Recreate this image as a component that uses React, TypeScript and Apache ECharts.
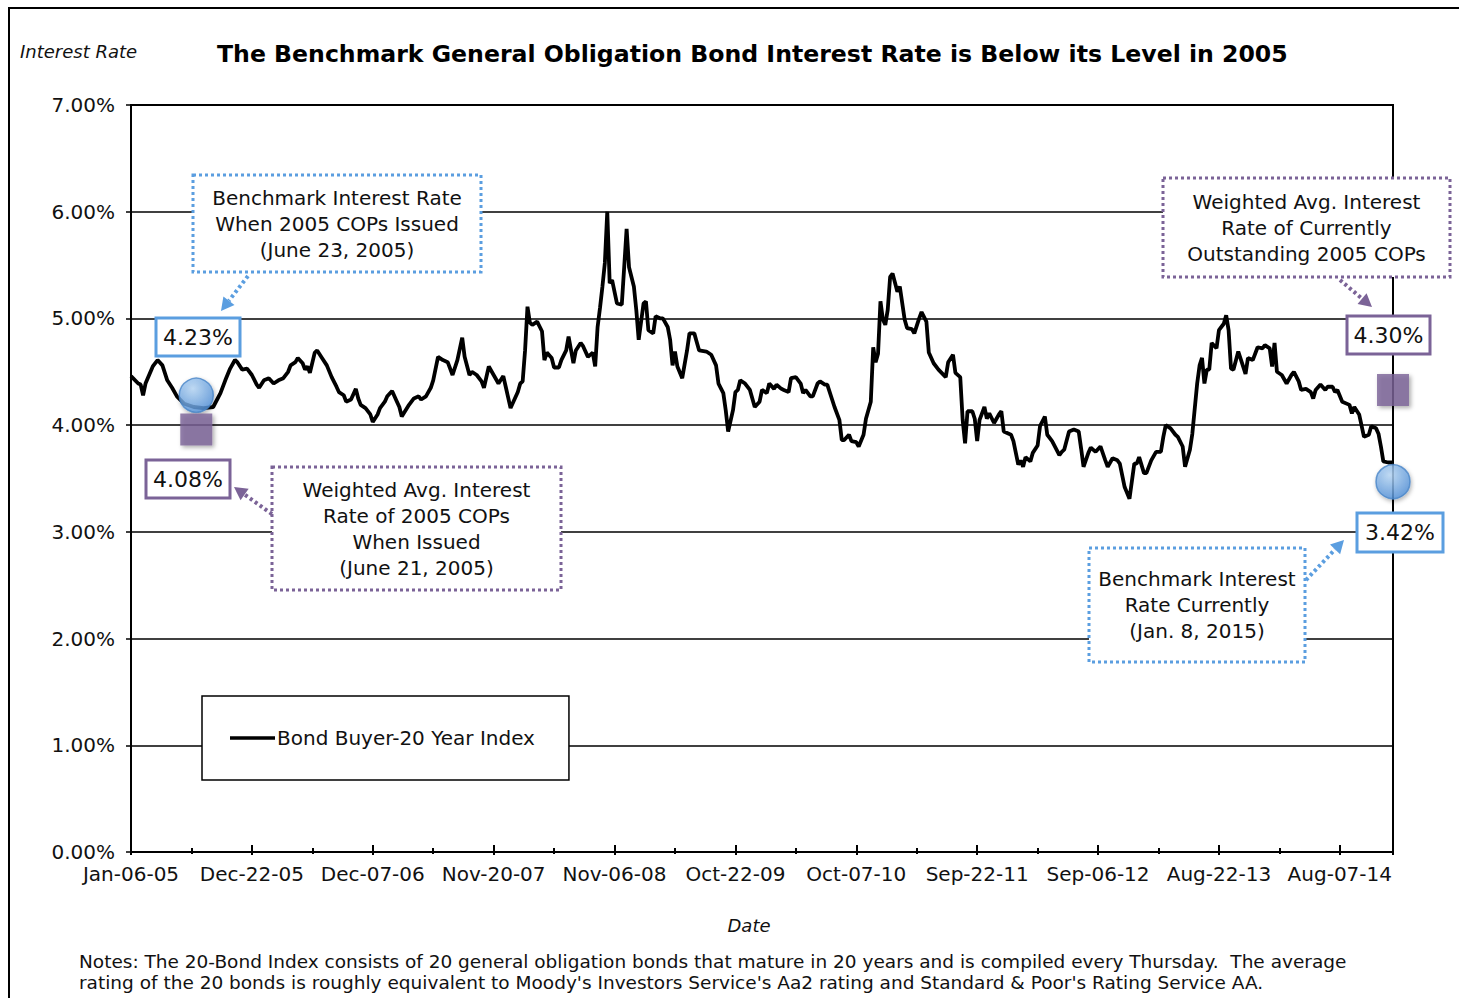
import React, { useEffect, useRef } from "react";
import * as echarts from "echarts";

// Bond Buyer 20-Year Index, weekly: [week index since Jan-06-05, rate %]
const bondBuyer20: [number, number][] = [
  [0,4.46],[3,4.39],[4,4.38],[5,4.28],[6,4.39],[9,4.55],[11,4.61],[13,4.56],[15,4.42],[17,4.35],[19,4.27],[22,4.20],[26,4.17],[30,4.16],[34,4.17],[37,4.30],[39,4.42],[41,4.53],[43,4.61],[44,4.59],[46,4.52],[48,4.53],[50,4.47],[52,4.38],[53,4.35],[55,4.42],[57,4.44],[59,4.39],[61,4.42],[63,4.44],[65,4.50],[66,4.56],[68,4.59],[69,4.63],[71,4.58],[72,4.52],[73,4.55],[74,4.49],[76,4.68],[77,4.70],[79,4.63],[81,4.56],[83,4.45],[85,4.36],[86,4.31],[88,4.28],[89,4.22],[91,4.24],[93,4.34],[94,4.25],[95,4.19],[97,4.16],[99,4.10],[100,4.03],[102,4.10],[103,4.16],[105,4.22],[106,4.27],[108,4.32],[110,4.22],[111,4.17],[112,4.08],[115,4.19],[117,4.25],[119,4.27],[120,4.24],[122,4.27],[124,4.35],[125,4.42],[127,4.64],[129,4.61],[131,4.59],[133,4.47],[135,4.61],[137,4.82],[138,4.64],[140,4.47],[141,4.50],[143,4.47],[145,4.41],[146,4.35],[148,4.55],[150,4.47],[152,4.39],[154,4.46],[155,4.36],[157,4.16],[160,4.31],[161,4.39],[162,4.41],[163,4.70],[164,5.11],[165,4.96],[166,4.94],[168,4.97],[170,4.88],[171,4.61],[172,4.68],[174,4.63],[175,4.54],[177,4.54],[178,4.61],[180,4.70],[181,4.83],[183,4.58],[184,4.70],[186,4.77],[187,4.74],[189,4.64],[191,4.68],[192,4.55],[193,4.92],[194,5.10],[195,5.30],[196,5.52],[197,6.00],[198,5.33],[199,5.36],[201,5.14],[203,5.13],[204,5.48],[205,5.84],[206,5.48],[208,5.30],[209,5.08],[210,4.80],[212,5.14],[213,5.16],[214,4.89],[216,4.86],[217,5.02],[219,5.00],[220,5.00],[222,4.92],[223,4.80],[224,4.56],[225,4.69],[226,4.55],[228,4.44],[230,4.70],[231,4.86],[233,4.86],[234,4.78],[235,4.70],[238,4.69],[240,4.66],[242,4.56],[243,4.39],[245,4.30],[246,4.14],[247,3.94],[249,4.14],[250,4.31],[251,4.33],[252,4.42],[254,4.39],[256,4.33],[258,4.17],[260,4.22],[261,4.33],[263,4.30],[264,4.39],[266,4.34],[267,4.38],[269,4.34],[270,4.33],[272,4.31],[273,4.44],[275,4.45],[277,4.39],[278,4.30],[279,4.33],[281,4.27],[282,4.27],[284,4.39],[285,4.41],[287,4.38],[288,4.38],[290,4.24],[291,4.17],[293,4.05],[294,3.86],[295,3.86],[297,3.91],[298,3.85],[300,3.84],[301,3.80],[303,3.91],[304,4.06],[306,4.22],[307,4.73],[308,4.59],[309,4.67],[310,5.16],[311,4.99],[312,4.94],[313,5.08],[314,5.39],[315,5.42],[317,5.25],[318,5.30],[320,4.99],[321,4.91],[323,4.90],[324,4.86],[326,5.00],[327,5.06],[329,4.97],[330,4.68],[332,4.58],[334,4.52],[337,4.45],[338,4.59],[340,4.66],[341,4.49],[343,4.45],[344,4.05],[345,3.83],[346,4.13],[348,4.13],[349,4.06],[350,3.85],[351,4.05],[353,4.17],[354,4.06],[355,4.11],[357,4.02],[359,4.10],[360,4.13],[361,3.94],[364,3.91],[365,3.85],[367,3.63],[368,3.67],[369,3.61],[370,3.70],[372,3.66],[373,3.74],[375,3.81],[376,3.99],[378,4.08],[379,3.91],[381,3.85],[384,3.72],[385,3.75],[386,3.77],[388,3.94],[390,3.96],[392,3.94],[393,3.78],[394,3.61],[396,3.74],[397,3.79],[399,3.75],[401,3.80],[403,3.67],[404,3.61],[406,3.69],[408,3.67],[409,3.64],[411,3.42],[413,3.31],[415,3.64],[416,3.64],[417,3.70],[419,3.55],[420,3.55],[422,3.67],[424,3.75],[426,3.75],[427,3.89],[428,4.00],[430,3.97],[432,3.91],[433,3.89],[435,3.80],[436,3.61],[438,3.77],[439,3.92],[441,4.39],[442,4.56],[443,4.63],[444,4.39],[445,4.52],[446,4.52],[447,4.77],[449,4.72],[450,4.89],[452,4.95],[453,5.03],[454,4.89],[455,4.53],[456,4.52],[458,4.69],[460,4.55],[461,4.48],[462,4.63],[464,4.61],[466,4.73],[468,4.72],[469,4.75],[471,4.72],[472,4.55],[473,4.77],[474,4.50],[476,4.47],[478,4.39],[480,4.47],[481,4.50],[483,4.41],[484,4.33],[486,4.34],[488,4.31],[489,4.25],[490,4.33],[492,4.38],[494,4.33],[495,4.36],[497,4.36],[498,4.31],[499,4.33],[501,4.22],[504,4.19],[505,4.11],[506,4.17],[508,4.10],[510,3.89],[512,3.91],[513,3.99],[515,3.97],[516,3.92],[517,3.80],[518,3.66],[520,3.65],[522,3.65]
];

const xTickLabels = [
  "Jan-06-05","Dec-22-05","Dec-07-06","Nov-20-07","Nov-06-08","Oct-22-09",
  "Oct-07-10","Sep-22-11","Sep-06-12","Aug-22-13","Aug-07-14",
];
const lastWeek = 522; // Jan-08-15

// Marker symbols as placed on the chart
const benchmarkMarkers: [number, number][] = [[27, 4.28], [522, 3.47]];
const copMarkers: [number, number][] = [[27, 3.96], [522, 4.33]];

const seriesName = "Bond Buyer-20 Year Index";
const titleText = "The Benchmark General Obligation Bond Interest Rate is Below its Level in 2005";
const notesLines = [
  "Notes: The 20-Bond Index consists of 20 general obligation bonds that mature in 20 years and is compiled every Thursday.  The average",
  "rating of the 20 bonds is roughly equivalent to Moody's Investors Service's Aa2 rating and Standard & Poor's Rating Service AA.",
];

const FONT = '"DejaVu Sans", sans-serif';
const BLUE = "#5b9ee0";
const PURPLE = "#7b6397";

function arrow(x1: number, y1: number, x2: number, y2: number, color: string) {
  const dx = x2 - x1, dy = y2 - y1;
  const L = Math.hypot(dx, dy);
  const ux = dx / L, uy = dy / L;
  const hl = 13, hw = 7;
  const bx = x2 - ux * hl, by = y2 - uy * hl;
  const px = -uy, py = ux;
  return [
    { type: "line", z: 100, shape: { x1, y1, x2: bx, y2: by }, style: { stroke: color, lineWidth: 4, lineDash: [3, 3] } },
    { type: "polygon", z: 100, shape: { points: [[x2, y2], [bx + px * hw, by + py * hw], [bx - px * hw, by - py * hw]] }, style: { fill: color } },
  ];
}

function box(x: number, y: number, w: number, h: number, color: string, dotted: boolean, text: string, fontSize: number) {
  return [
    { type: "rect", z: 100, shape: { x, y, width: w, height: h }, style: { fill: "#fff", stroke: color, lineWidth: 3, lineDash: dotted ? [3, 3] : null } },
    {
      type: "text", z: 101,
      style: {
        text, x: x + w / 2, y: y + h / 2, textAlign: "center", textVerticalAlign: "middle",
        fill: "#111", fontSize, fontFamily: FONT, lineHeight: 26,
      },
    },
  ];
}

export default function App() {
  const ref = useRef<HTMLDivElement>(null);
  useEffect(() => {
    if (!ref.current) return;
    const chart = echarts.init(ref.current, null, { renderer: "svg" });
    const tickFmt = (v: number) => (v % 50 === 0 && v / 50 < xTickLabels.length ? xTickLabels[v / 50] : "");
    const grid = { left: 131, top: 105, right: 66, bottom: 146, show: true, borderColor: "#000", borderWidth: 2, backgroundColor: "transparent" };
    const option: any = {
      animation: false,
      backgroundColor: "#fff",
      grid,
      title: {
        text: titleText, left: 212, top: 37,
        textStyle: { fontFamily: '"DejaVu Sans", sans-serif', fontWeight: "bold", fontSize: 23.6, color: "#000" },
      },
      legend: {
        data: [seriesName], left: 202, top: 696, icon: "rect",
        padding: [32, 34, 32, 28], borderColor: "#000", borderWidth: 1.5, backgroundColor: "#fff",
        itemWidth: 45, itemHeight: 3.5, itemGap: 0, borderRadius: 0,
        itemStyle: { color: "#000" },
        textStyle: { fontFamily: FONT, fontSize: 20, color: "#111", padding: [0, 0, 0, -3] },
      },
      xAxis: [
        {
          type: "value", min: 0, max: lastWeek, interval: 50,
          axisLine: { show: true, lineStyle: { color: "#000", width: 2 } },
          axisTick: { show: true, inside: true, length: 7, lineStyle: { color: "#000", width: 2 } },
          minorTick: { show: true, splitNumber: 2, length: 4, lineStyle: { color: "#000", width: 2 } },
          splitLine: { show: false },
          axisLabel: { formatter: tickFmt, fontFamily: FONT, fontSize: 20, color: "#111", margin: 12, showMaxLabel: false },
        },
        {
          type: "value", min: 0, max: lastWeek, interval: 50, position: "bottom",
          axisLine: { show: false },
          axisTick: { show: true, inside: false, length: 3, lineStyle: { color: "#000", width: 2 } },
          minorTick: { show: true, splitNumber: 2, length: 2, lineStyle: { color: "#000", width: 2 } },
          splitLine: { show: false },
          axisLabel: { show: false },
        },
      ],
      yAxis: {
        type: "value", min: 0, max: 7, interval: 1,
        axisLine: { show: true, lineStyle: { color: "#000", width: 2 } },
        axisTick: { show: true, length: 5, lineStyle: { color: "#000", width: 1.5 } },
        splitLine: { show: true, lineStyle: { color: "#000", width: 1.5 } },
        axisLabel: { formatter: (v: number) => v.toFixed(2) + "%", fontFamily: FONT, fontSize: 20, color: "#111", margin: 16 },
      },
      series: [
        {
          name: seriesName, type: "line", data: bondBuyer20, symbol: "none", z: 5,
          lineStyle: { color: "#000", width: 3.8 }, itemStyle: { color: "#000" },
        },
        {
          name: "Benchmark", type: "scatter", data: benchmarkMarkers, symbol: "circle", symbolSize: 34, z: 20, clip: false,
          itemStyle: {
            color: new echarts.graphic.RadialGradient(0.4, 0.3, 0.75, [
              { offset: 0, color: "#b9d9f8" }, { offset: 1, color: "#4f8fd8" },
            ]),
            borderColor: "#4a86c8", borderWidth: 1.5,
            shadowBlur: 4, shadowColor: "rgba(0,0,0,0.35)", shadowOffsetX: 1, shadowOffsetY: 2,
          },
        },
        {
          name: "COPs", type: "scatter", data: copMarkers, symbol: "rect", symbolSize: 32, z: 20, clip: false,
          itemStyle: {
            color: PURPLE, shadowBlur: 4, shadowColor: "rgba(0,0,0,0.4)", shadowOffsetX: 2, shadowOffsetY: 2,
          },
        },
      ],
      graphic: [
        { type: "rect", z: 0, shape: { x: 9, y: 8, width: 1470, height: 1010 }, style: { fill: "none", stroke: "#000", lineWidth: 2 } },
        { type: "text", z: 100, style: { text: "Interest Rate", x: 20, y: 51, textVerticalAlign: "middle", fontFamily: FONT, fontStyle: "italic", fontSize: 18, fill: "#111" } },
        { type: "text", z: 100, style: { text: "Date", x: 749, y: 925, textAlign: "center", textVerticalAlign: "middle", fontFamily: FONT, fontStyle: "italic", fontSize: 18, fill: "#111" } },
        { type: "text", z: 100, style: { text: notesLines[0], x: 79, y: 961, textVerticalAlign: "middle", fontFamily: FONT, fontSize: 18.5, fill: "#111" } },
        { type: "text", z: 100, style: { text: notesLines[1], x: 79, y: 982, textVerticalAlign: "middle", fontFamily: FONT, fontSize: 18.5, fill: "#111" } },
        ...box(193, 175, 288, 97, BLUE, true, "Benchmark Interest Rate\nWhen 2005 COPs Issued\n(June 23, 2005)", 20),
        ...box(156, 318, 84, 38, BLUE, false, "4.23%", 22),
        ...box(146, 460, 84, 38, PURPLE, false, "4.08%", 22),
        ...box(272, 467, 289, 123, PURPLE, true, "Weighted Avg. Interest\nRate of 2005 COPs\nWhen Issued\n(June 21, 2005)", 20),
        ...box(1163, 178, 287, 99, PURPLE, true, "Weighted Avg. Interest\nRate of Currently\nOutstanding 2005 COPs", 20),
        ...box(1347, 316, 83, 38, PURPLE, false, "4.30%", 22),
        ...box(1357, 513, 86, 39, BLUE, false, "3.42%", 22),
        ...box(1089, 548, 216, 114, BLUE, true, "Benchmark Interest\nRate Currently\n(Jan. 8, 2015)", 20),
        ...arrow(248, 276, 221, 311, BLUE),
        ...arrow(272, 514, 234, 487, PURPLE),
        ...arrow(1340, 280, 1372, 307, PURPLE),
        ...arrow(1306, 580, 1344, 540, BLUE),
      ],
    };
    chart.setOption(option);
    return () => chart.dispose();
  }, []);
  return (
    <div
      ref={ref}
      style={{ position: "fixed", left: 0, top: 0, width: 1459, height: 998, background: "#fff" }}
    />
  );
}
